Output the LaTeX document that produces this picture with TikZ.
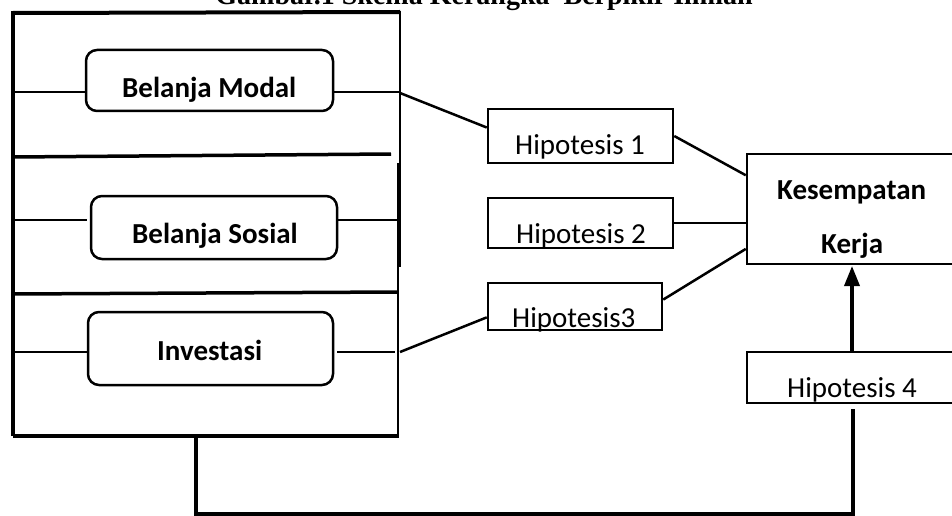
\documentclass[tikz,border=0pt]{standalone}
\usepackage{fontspec}
\setmainfont{Carlito}
\newfontfamily\titlefont{Liberation Serif}
\usetikzlibrary{calc,arrows.meta}
\begin{document}
\begin{tikzpicture}[x=1pt,y=-1pt,
  frameline/.style={line width=4pt},
  divider/.style={line width=3.5pt},
  conn/.style={line width=2.5pt},
  rbox/.style={draw,line width=2.5pt,rounded corners=11pt,inner sep=0pt},
  hbox/.style={draw,line width=2.5pt,inner sep=0pt},
  lbl/.style={anchor=base west,inner sep=0pt,font=\fontsize{29}{31}\selectfont},
  blbl/.style={anchor=base west,inner sep=0pt,font=\fontsize{29}{31}\selectfont\bfseries}]
\useasboundingbox (0,0) rectangle (952,516);

% title (cut off at the top, as in the reference)
\node[anchor=base,inner sep=0pt,font=\titlefont\bfseries\fontsize{28}{30}\selectfont] (title) at (484,5) {Gambar.1 Skema Kerangka\ \ Berpikir Ilmiah};

% outer frame
\coordinate (ftl) at (13,13);
\coordinate (ftr) at (400,12);
\coordinate (fbl) at (13,436);
\coordinate (fbr) at (399,436);
\draw[frameline] (ftl) -- (ftr);
\draw[frameline] (13,11) -- (fbl);
\draw[frameline] (fbl) -- (fbr);
\draw[line width=2.5pt] (400,11) -- (400,163);
\draw[frameline] (399,163) -- (399,267);
\draw[line width=2.5pt] (398,267) -- (398,438);
\draw[divider] (13,157) -- (391,154);
\draw[divider] (13,294) -- (398,292);

% rounded boxes
\node[rbox,minimum width=247pt,minimum height=61pt] (bm) at (209.5,80.5) {};
\node[blbl] (bmt) at (122,98) {Belanja Modal};
\node[rbox,minimum width=246pt,minimum height=63pt] (bs) at (214,227.5) {};
\node[blbl] (bst) at (132,243) {Belanja Sosial};
\node[rbox,minimum width=245pt,minimum height=73pt] (inv) at (210.5,348.5) {};
\node[blbl] (invt) at (157,360) {Investasi};

% side connectors of rounded boxes
\coordinate (bmL) at (15,92);
\coordinate (bmR) at (399,92);
\coordinate (bsL) at (15,220);
\coordinate (bsR) at (397,220);
\coordinate (invL) at (15,352);
\coordinate (invR) at (395,352);
\draw[conn] (bmL) -- (bm.west |- bmL);
\draw[conn] (bm.east |- bmR) -- (bmR);
\draw[conn] (bsL) -- (87,220);
\draw[conn] (bs.east |- bsR) -- (bsR);
\draw[conn] (invL) -- (inv.west |- invL);
\draw[conn] (337,352) -- (invR);

% hypothesis boxes
\node[hbox,minimum width=185pt,minimum height=54pt] (h1) at (580.5,136) {};
\node[lbl] (h1t) at (515,154) {Hipotesis 1};
\node[hbox,minimum width=185pt,minimum height=50pt] (h2) at (580.5,223) {};
\node[lbl] (h2t) at (516,243) {Hipotesis 2};
\node[hbox,minimum width=174pt,minimum height=47pt] (h3) at (575,306.5) {};
\node[lbl] (h3t) at (512,327) {Hipotesis3};
\node[hbox,minimum width=210pt,minimum height=51pt] (h4) at (852,377.5) {};
\node[lbl] (h4t) at (787,397) {Hipotesis 4};

% outcome box
\node[hbox,minimum width=210pt,minimum height=110pt] (k) at (852,209) {};
\node[blbl] (kt1) at (777,199) {Kesempatan};
\node[blbl] (kt2) at (821,253) {Kerja};

% connectors to hypotheses
\coordinate (fm1) at (400,93);
\coordinate (fm3) at (400,352);
\draw[conn] (fm1) -- ($(h1.north west)!0.35!(h1.south west)$);
\draw[conn] (fm3) -- ($(h3.north west)!0.72!(h3.south west)$);
\draw[conn] (h1.east) -- ($(k.north west)!0.2!(k.south west)$);
\draw[conn] (h2.east) -- (k.west |- h2.east);
\draw[conn] ($(h3.north east)!0.36!(h3.south east)$) -- ($(k.north west)!0.855!(k.south west)$);

% hypothesis 4
\draw[line width=3.5pt,-{Triangle[length=20pt,width=15pt]}] (h4.north) -- (852,266);
\coordinate (bstart) at (196,437);
\coordinate (bcorner1) at (196,514);
\coordinate (bcorner2) at (853,514);
\coordinate (bend) at (853,409);
\draw[line width=3.5pt] (bstart) -- (bcorner1) -- (bcorner2) -- (bend);
\end{tikzpicture}
\end{document}
